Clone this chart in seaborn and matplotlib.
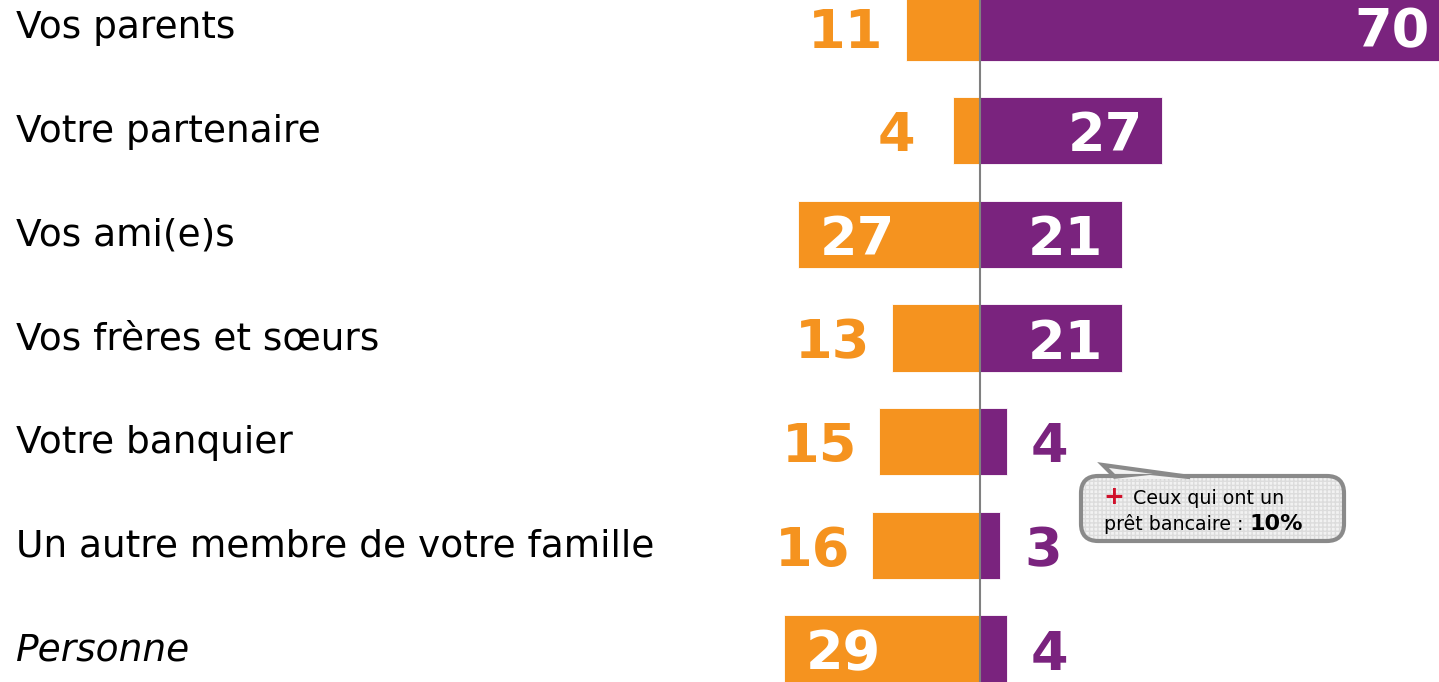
import numpy as np
import pandas as pd
import matplotlib
matplotlib.use("Agg")
import matplotlib.pyplot as plt
import seaborn as sns
from matplotlib.patches import FancyBboxPatch, Polygon

# data
categories = ["Vos parents", "Votre partenaire", "Vos ami(e)s", "Vos frères et sœurs",
              "Votre banquier", "Un autre membre de votre famille", "Personne"]
left_vals = [11, 4, 27, 13, 15, 16, 29]     # orange
right_vals = [70, 27, 21, 21, 4, 3, 4]      # violet

ORANGE = "#F5931F"
PURPLE = "#7A237E"

W, H = 1439, 682
sns.set_theme(style="white")
plt.rcParams['font.family'] = ['DejaVu Sans']
plt.rcParams['text.color'] = 'black'

fig = plt.figure(figsize=(W / 100, H / 100), dpi=100)
ax = fig.add_axes([0, 0, 1, 1])

df = pd.DataFrame({"cat": categories,
                   "left": [-v for v in left_vals],
                   "right": right_vals})

sns.barplot(data=df, x="left", y="cat", color=ORANGE, saturation=1, width=0.65,
            edgecolor="white", linewidth=0.6, ax=ax)
sns.barplot(data=df, x="right", y="cat", color=PURPLE, saturation=1, width=0.65,
            edgecolor="white", linewidth=0.6, ax=ax)

# scale: ~6.75 px per point, zero line at x=980px
ppu = 6.75
x0 = 980
xmin = -x0 / ppu
xmax = (W - x0) / ppu
ax.set_xlim(xmin, xmax)
ax.set_ylim(6 + 33 / 103.67, -27 / 103.67)
ax.axvline(0, color="#808080", lw=1.5, zorder=5)

ax.set_xlabel("")
ax.set_ylabel("")
ax.set_xticks([])
ax.set_yticks([])
for s in ax.spines.values():
    s.set_visible(False)

off = 20 / ppu
dy = 0.055          # numbers sit a little below the bar centre
fs_num = 39
for i, (cat, lv, rv) in enumerate(zip(categories, left_vals, right_vals)):
    # category label
    ax.text(xmin + 16 / ppu, i + 0.01, cat, fontsize=27, va="center", ha="left",
            style="italic" if cat == "Personne" else "normal")
    # orange value
    if lv >= 20:
        ax.text(-lv + off * 1.1, i + dy, str(lv), color="white", fontsize=fs_num,
                fontweight="bold", va="center", ha="left")
    else:
        ax.text(-lv - off * (1.9 if lv < 10 else 1.1), i + dy, str(lv), color=ORANGE,
                fontsize=fs_num, fontweight="bold", va="center", ha="right")
    # purple value
    if rv >= 20:
        end = min(rv, xmax - 9 / ppu + off * 0.95)
        ax.text(end - off * 0.95, i + dy, str(rv), color="white", fontsize=fs_num,
                fontweight="bold", va="center", ha="right")
    else:
        ax.text(rv + off * 1.2, i + dy, str(rv), color=PURPLE, fontsize=fs_num,
                fontweight="bold", va="center", ha="left")


# callout box (pixel coordinates -> axes fraction)
def px(x, y):
    return x / W, 1 - y / H


bx0, by0 = px(1081, 541)
bx1, by1 = px(1344, 476)
box_kw = dict(boxstyle="round,pad=0,rounding_size=0.012", transform=ax.transAxes,
              mutation_aspect=W / H)
ax.add_patch(FancyBboxPatch((bx0, by0), bx1 - bx0, by1 - by0, fc="#f2f2f2",
                            ec="#dcdcdc", lw=0, hatch="++++", zorder=6, **box_kw))
ax.add_patch(FancyBboxPatch((bx0, by0), bx1 - bx0, by1 - by0, fc="none",
                            ec="#8a8a8a", lw=3, zorder=7, **box_kw))
tail = Polygon([px(1115, 477), px(1103, 465), px(1190, 477)], closed=True,
               fc="#f2f2f2", ec="#8a8a8a", lw=3, transform=ax.transAxes, zorder=6.5)
ax.add_patch(tail)
ax.add_patch(Polygon([px(1113, 479), px(1188, 479), px(1150, 475)], closed=True,
                     fc="#f2f2f2", ec="none", transform=ax.transAxes, zorder=7.5))

tx, ty = px(1103, 497)
ax.text(tx, ty, "+", color="#d0102a", fontsize=18, fontweight="bold",
        transform=ax.transAxes, va="center", ha="left", zorder=8)
tx, ty = px(1133, 499)
ax.text(tx, ty, "Ceux qui ont un", fontsize=13.7, transform=ax.transAxes,
        va="center", ha="left", zorder=8)
tx, ty = px(1104, 524)
t = ax.text(tx, ty, "prêt bancaire : ", fontsize=13.7, transform=ax.transAxes,
            va="center", ha="left", zorder=8)
fig.canvas.draw()
bb = t.get_window_extent()
ax.text(bb.x1 / W, ty, "10%", fontsize=16, fontweight="bold", transform=ax.transAxes,
        va="center", ha="left", zorder=8)

fig.savefig("out.png", dpi=100)
